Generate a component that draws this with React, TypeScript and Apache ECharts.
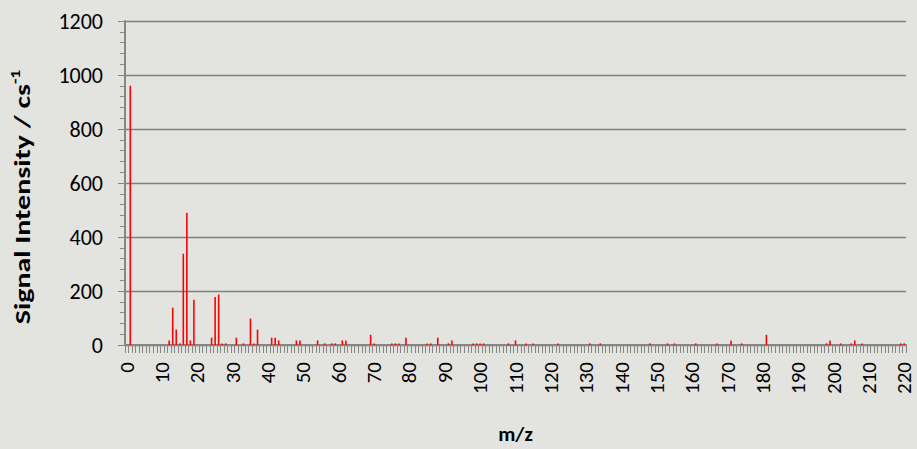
import React, { useEffect, useRef } from "react";
import * as echarts from "echarts";

// m/z categories 0..220
const mzCategories: string[] = Array.from({ length: 221 }, (_, i) => String(i));

// peaks (m/z and signal intensity, cs^-1)
const peakMz: number[] = [
  1, 12, 13, 14, 15, 16, 17, 18, 19, 24, 25, 26, 27, 28, 31, 33, 35, 36, 37, 41, 42, 43, 48, 49,
  54, 56, 58, 59, 61, 62, 69, 70, 75, 76, 77, 79, 85, 86, 88, 91, 92, 98, 99, 100, 101, 108, 110,
  113, 115, 122, 131, 134, 148, 153, 155, 161, 167, 171, 174, 181, 198, 199, 202, 205, 206, 208,
  219, 220,
];
const peakIntensity: number[] = [
  960, 17, 138, 57, 6, 338, 490, 17, 168, 27, 178, 187, 6, 6, 27, 6, 98, 6, 57, 27, 27, 17, 17, 17,
  17, 6, 6, 6, 17, 17, 38, 6, 6, 6, 6, 27, 6, 6, 27, 6, 17, 6, 6, 6, 6, 6, 17,
  6, 6, 6, 6, 6, 6, 6, 6, 6, 6, 17, 6, 38, 6, 17, 6, 6, 17, 6,
  6, 6,
];

const yTicks = { min: 0, max: 1200, interval: 200 };
const yTitle = "Signal Intensity / cs";
const yTitleSup = "-1";
const xTitle = "m/z";

export default function App() {
  const ref = useRef<HTMLDivElement>(null);
  useEffect(() => {
    if (!ref.current) return;
    const chart = echarts.init(ref.current, undefined, { renderer: "svg" });
    const values: (number | null)[] = mzCategories.map(() => null);
    peakMz.forEach((mz, i) => {
      values[mz] = peakIntensity[i];
    });
    const font = "Carlito, Calibri, Lato, sans-serif";
    const gray = "#868686";
    chart.setOption({
      animation: false,
      backgroundColor: "#e3e3e0",
      grid: { left: 125, right: 11, top: 21, bottom: 96, containLabel: false },
      graphic: [
        {
          type: "text",
          x: 22,
          y: 197,
          rotation: Math.PI / 2,
          scaleX: 1.36,
          scaleY: 1,
          style: {
            text: "{b|" + yTitle + "}{s|" + yTitleSup + "}",
            align: "center",
            verticalAlign: "middle",
            rich: {
              b: { fontFamily: font, fontSize: 22, fontWeight: "bold", fill: "#000", lineHeight: 26 },
              s: { fontFamily: font, fontSize: 13, fontWeight: "bold", fill: "#000", verticalAlign: "top", lineHeight: 26 },
            },
          },
        },
      ],
      xAxis: {
        type: "category",
        data: mzCategories,
        boundaryGap: true,
        name: xTitle,
        nameLocation: "middle",
        nameGap: 78,
        nameTextStyle: { fontFamily: font, fontSize: 21, fontWeight: "bold", color: "#000" },
        axisLine: { show: true, lineStyle: { color: gray, width: 2 } },
        axisTick: { show: true, interval: 0, length: 8, lineStyle: { color: gray, width: 1 } },
        axisLabel: {
          interval: 9,
          rotate: 90,
          margin: 17,
          fontFamily: font,
          fontSize: 21,
          color: "#000",
        },
        splitLine: { show: false },
      },
      yAxis: {
        type: "value",
        min: yTicks.min,
        max: yTicks.max,
        interval: yTicks.interval,
        axisLine: { show: true, lineStyle: { color: gray, width: 2 } },
        axisTick: { show: true, length: 7, lineStyle: { color: gray, width: 1 } },
        minorTick: { show: true, splitNumber: 5, length: 5, lineStyle: { color: gray, width: 1 } },
        axisLabel: {
          margin: 22,
          fontFamily: font,
          fontSize: 22,
          color: "#000",
          formatter: (v: number) => String(v),
        },
        splitLine: { show: true, lineStyle: { color: "#7f7f7f", width: 1.3 } },
      },
      series: [
        {
          type: "bar",
          data: values,
          barWidth: 1.6,
          itemStyle: { color: "#ff0000" },
        },
      ],
    });
    return () => chart.dispose();
  }, []);
  return (
    <div
      ref={ref}
      style={{ position: "fixed", left: 0, top: 0, width: 917, height: 449 }}
    />
  );
}
